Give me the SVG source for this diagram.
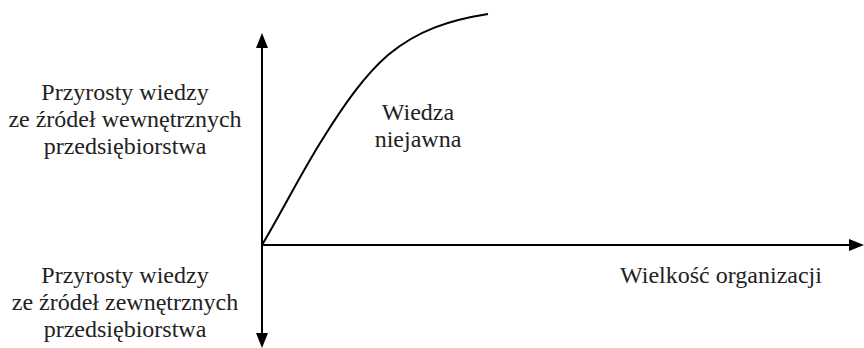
<svg xmlns="http://www.w3.org/2000/svg" width="864" height="348" viewBox="0 0 864 348">
<style>
text{font-family:"Liberation Serif","Times New Roman",serif;font-size:24px;fill:#222;text-anchor:middle}
.ax{stroke:#000;stroke-width:2;fill:none}
.head{fill:#000}
</style>
<rect width="864" height="348" fill="#fff"/>
<g id="connectors">
<line class="ax" x1="262" y1="245" x2="262" y2="45"/>
<polygon class="head" points="262,33 256,48 268,48"/>
<line class="ax" x1="262" y1="245" x2="262" y2="335"/>
<polygon class="head" points="262,348 256,333 268,333"/>
<line class="ax" x1="262" y1="245" x2="852" y2="245"/>
<polygon class="head" points="864,245 849,239 849,251"/>
<path class="ax" d="M262,245 C281,213 303,170 322,140 C345,103 365,75 388,55 C418,30 450,20 488,14"/>
</g>
<g id="label-internal">
<text x="125" y="100">Przyrosty wiedzy</text>
<text x="125" y="127">ze źródeł wewnętrznych</text>
<text x="125" y="154">przedsiębiorstwa</text>
</g>
<g id="label-external">
<text x="125" y="283">Przyrosty wiedzy</text>
<text x="125" y="310">ze źródeł zewnętrznych</text>
<text x="125" y="337">przedsiębiorstwa</text>
</g>
<g id="label-tacit">
<text x="418" y="120">Wiedza</text>
<text x="418" y="147">niejawna</text>
</g>
<g id="label-x">
<text x="721" y="283">Wielkość organizacji</text>
</g>
</svg>
